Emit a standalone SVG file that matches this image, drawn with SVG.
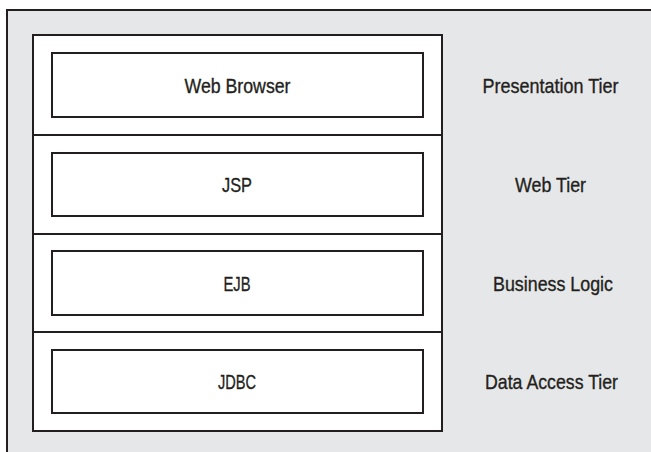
<svg xmlns="http://www.w3.org/2000/svg" width="651" height="452" viewBox="0 0 651 452">
<style>
.bg{fill:#e6e7e8;stroke:#231f20;stroke-width:2}
.stack{fill:#ffffff;stroke:#231f20;stroke-width:2}
.box{fill:#ffffff;stroke:#231f20;stroke-width:2}
.div{stroke:#231f20;stroke-width:2}
text{font-family:"Liberation Sans Narrow","Liberation Sans",Arial,sans-serif;font-size:21px;fill:#231f20;stroke:#231f20;stroke-width:0.35;text-anchor:middle}
</style>
<rect class="bg" x="7" y="10" width="670" height="470"/>
<rect class="stack" x="33" y="35" width="409" height="396"/>
<g id="connectors">
<line class="div" x1="33" y1="135" x2="442" y2="135"/>
<line class="div" x1="33" y1="234" x2="442" y2="234"/>
<line class="div" x1="33" y1="332" x2="442" y2="332"/>
</g>
<g id="web-browser">
<rect class="box" x="52" y="53" width="371" height="64"/>
<text x="237.5" y="92.5" textLength="106" lengthAdjust="spacingAndGlyphs">Web Browser</text>
</g>
<g id="jsp">
<rect class="box" x="52" y="153" width="371" height="63"/>
<text x="237" y="191.5" textLength="30" lengthAdjust="spacingAndGlyphs">JSP</text>
</g>
<g id="ejb">
<rect class="box" x="52" y="251" width="371" height="64"/>
<text x="237" y="290.5" textLength="27" lengthAdjust="spacingAndGlyphs">EJB</text>
</g>
<g id="jdbc">
<rect class="box" x="52" y="350" width="371" height="63"/>
<text x="237" y="388.5" textLength="38" lengthAdjust="spacingAndGlyphs">JDBC</text>
</g>
<g id="label-presentation">
<text x="550.5" y="92.5" textLength="136" lengthAdjust="spacingAndGlyphs">Presentation Tier</text>
</g>
<g id="label-web">
<text x="550.5" y="191.5" textLength="71" lengthAdjust="spacingAndGlyphs">Web Tier</text>
</g>
<g id="label-business">
<text x="553" y="290.5" textLength="120" lengthAdjust="spacingAndGlyphs">Business Logic</text>
</g>
<g id="label-data">
<text x="551.5" y="388.5" textLength="133" lengthAdjust="spacingAndGlyphs">Data Access Tier</text>
</g>
</svg>
